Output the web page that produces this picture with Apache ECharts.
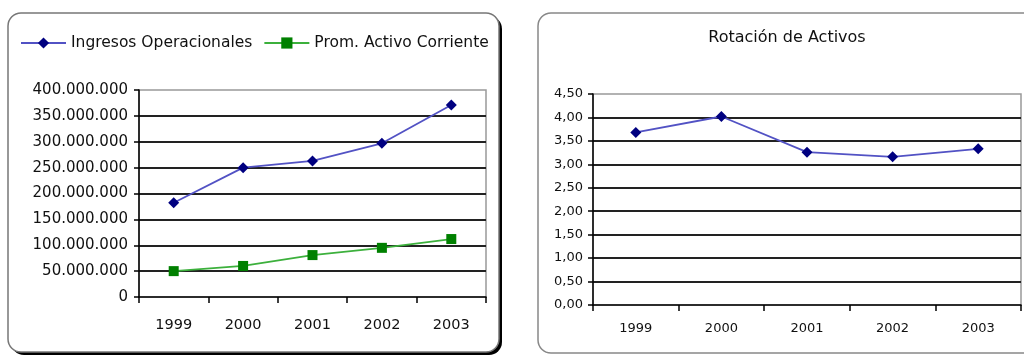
<!DOCTYPE html>
<html>
<head>
<meta charset="utf-8">
<script src="https://cdn.jsdelivr.net/npm/echarts@6/dist/echarts.min.js"></script>
<style>
  html, body { margin: 0; padding: 0; background: #fff; }
  #chart { width: 1024px; height: 358px; }
</style>
</head>
<body>
<div id="chart"></div>
<script>
// Years shared by both charts
const years = ['1999', '2000', '2001', '2002', '2003'];

// Left chart: operating income and average current assets (pesos)
const ingresosOperacionales = [182000000, 250000000, 263000000, 297000000, 371000000];
const promActivoCorriente = [50000000, 60000000, 81000000, 95000000, 112000000];

// Right chart: asset turnover ratio
const rotacionActivos = [3.68, 4.02, 3.26, 3.16, 3.33];

// Tick labels
const leftTickLabels = ['0', '50.000.000', '100.000.000', '150.000.000', '200.000.000',
  '250.000.000', '300.000.000', '350.000.000', '400.000.000'];
const rightTickLabels = ['0,00', '0,50', '1,00', '1,50', '2,00', '2,50', '3,00', '3,50', '4,00', '4,50'];

const FONT = 'DejaVu Sans';
const TXT = '#111';

const chart = echarts.init(document.getElementById('chart'), null, { renderer: 'canvas' });

function yAxisBase(gridIndex, max, interval, labels, fontSize, margin) {
  return {
    type: 'value', gridIndex, min: 0, max, interval,
    axisLine: { show: true, lineStyle: { color: '#000', width: 1.5 } },
    axisTick: { show: true, length: 5, lineStyle: { color: '#000', width: 1.5 } },
    axisLabel: {
      color: TXT, fontFamily: FONT, fontSize, margin,
      formatter: v => labels[Math.round(v / interval)]
    },
    splitLine: {
      show: true, showMinLine: false, showMaxLine: false,
      lineStyle: { color: '#222', width: 2 }
    }
  };
}

function xAxisBase(gridIndex, fontSize, margin) {
  return {
    type: 'category', gridIndex, data: years, boundaryGap: true,
    axisLine: { show: true, lineStyle: { color: '#000', width: 1.5 } },
    axisTick: { show: true, length: 6, alignWithLabel: false, lineStyle: { color: '#000', width: 1.5 } },
    axisLabel: { color: TXT, fontFamily: FONT, fontSize, margin },
    splitLine: { show: false }
  };
}

const option = {
  backgroundColor: '#fff',
  animation: false,
  graphic: [
    // left frame: dark drop edge, then the white rounded panel
    {
      type: 'rect', z: -101,
      shape: { x: 11, y: 16, width: 491, height: 339, r: 13 },
      style: { fill: '#000' }
    },
    {
      type: 'rect', z: -100,
      shape: { x: 8, y: 13, width: 491, height: 339, r: 13 },
      style: { fill: '#fff', stroke: '#777', lineWidth: 1.5 }
    },
    // right frame
    {
      type: 'rect', z: -100,
      shape: { x: 538, y: 13, width: 500, height: 340, r: 13 },
      style: { fill: '#fff', stroke: '#888', lineWidth: 1.5 }
    },
    {
      type: 'text', z: 10,
      style: {
        text: 'Rotación de Activos', x: 787, y: 38,
        textAlign: 'center', textVerticalAlign: 'middle',
        fontFamily: FONT, fontSize: 16, fill: TXT
      }
    }
  ],
  legend: {
    left: 15, top: 30, itemWidth: 45, itemHeight: 14, itemGap: 11,
    textStyle: { color: TXT, fontFamily: FONT, fontSize: 15.5 },
    data: ['Ingresos Operacionales', 'Prom. Activo Corriente']
  },
  grid: [
    { left: 139, right: 538, top: 90, bottom: 61, show: true, borderColor: '#999', borderWidth: 1.5 },
    { left: 593, right: 3, top: 94, bottom: 53, show: true, borderColor: '#999', borderWidth: 1.5 }
  ],
  xAxis: [xAxisBase(0, 14.5, 21), xAxisBase(1, 13, 17)],
  yAxis: [
    yAxisBase(0, 400000000, 50000000, leftTickLabels, 15, 11),
    yAxisBase(1, 4.5, 0.5, rightTickLabels, 13, 10)
  ],
  series: [
    {
      name: 'Ingresos Operacionales', type: 'line', xAxisIndex: 0, yAxisIndex: 0,
      data: ingresosOperacionales, symbol: 'diamond', symbolSize: 11,
      lineStyle: { color: '#5252c4', width: 1.8 },
      itemStyle: { color: '#000080' }
    },
    {
      name: 'Prom. Activo Corriente', type: 'line', xAxisIndex: 0, yAxisIndex: 0,
      data: promActivoCorriente, symbol: 'rect', symbolSize: 10,
      lineStyle: { color: '#3cb03c', width: 1.8 },
      itemStyle: { color: '#008000' }
    },
    {
      name: 'Rotación de Activos', type: 'line', xAxisIndex: 1, yAxisIndex: 1,
      data: rotacionActivos, symbol: 'diamond', symbolSize: 11,
      lineStyle: { color: '#5252c4', width: 1.8 },
      itemStyle: { color: '#000080' }
    }
  ]
};

chart.setOption(option);
</script>
</body>
</html>
